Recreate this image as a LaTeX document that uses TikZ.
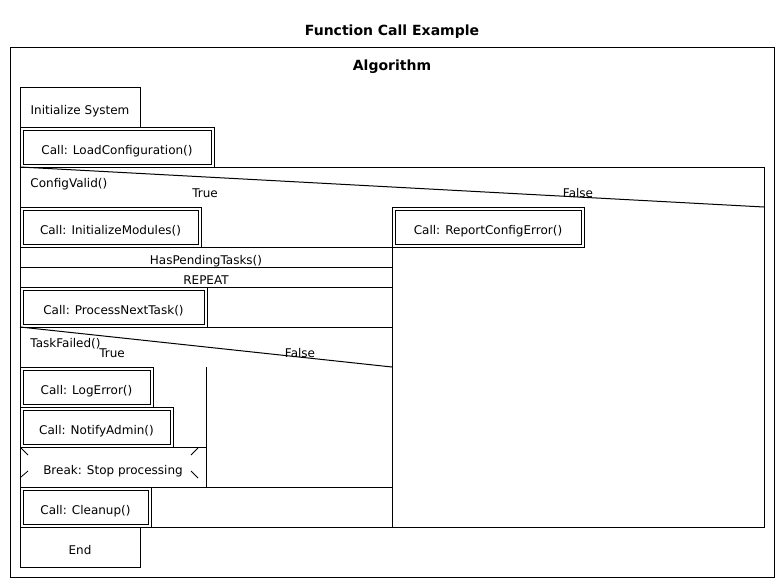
\documentclass[tikz,border=0pt]{standalone}
\usepackage{fontspec}
\setmainfont{DejaVu Sans}
\begin{document}
\begin{tikzpicture}[x=1pt,y=-1pt,line width=1pt,
    every node/.style={font=\fontsize{12}{14}\selectfont},
    heading/.style={anchor=base,font=\bfseries\fontsize{14}{16}\selectfont},
    plainbox/.style={draw,rectangle,inner sep=0pt,outer sep=0pt,anchor=north west,
      text height=14pt,text depth=0pt},
    callbox/.style={plainbox,double,double distance=2pt},
    lbl/.style={anchor=base,inner sep=0pt}]
  \useasboundingbox (0,0) rectangle (784,587);
  \draw
    (392,35) node[heading] (title){Function Call Example}
    (392,70) node[heading] (algo){Algorithm};
  \draw (10,47) rectangle (774,577);
  % sequence
  \node[plainbox,minimum width=120pt,minimum height=40pt] (init) at (20,87) {Initialize System};
  \node[callbox,minimum width=191pt,minimum height=37pt] (loadcfg) at (21.5,128.5) {Call: LoadConfiguration()};
  % if ConfigValid()
  \draw (20,167) rectangle (764,527);
  \draw (20,167) -- (764,207);
  \draw (392,207) -- (392,527);
  \node[lbl,anchor=base west] (cv) at (30,187) {ConfigValid()};
  \node[lbl] (cvtrue) at (205,197) {True};
  \node[lbl] (cvfalse) at (578,197) {False};
  \node[callbox,minimum width=178pt,minimum height=37pt] (initmod) at (21.5,208.5) {Call: InitializeModules()};
  \node[callbox,minimum width=189pt,minimum height=37pt] (reportcfg) at (393.5,208.5) {Call: ReportConfigError()};
  % loop
  \node[plainbox,minimum width=372pt,minimum height=20pt] (pending) at (20,247) {HasPendingTasks()};
  \node[plainbox,minimum width=372pt,minimum height=20pt] (repeat) at (20,267) {REPEAT};
  \node[callbox,minimum width=184pt,minimum height=37pt] (procnext) at (21.5,288.5) {Call: ProcessNextTask()};
  % if TaskFailed()
  \draw (20,327) -- (392,327);
  \draw (20,327) -- (392,367);
  \draw (206,367) -- (206,487);
  \draw (20,487) -- (392,487);
  \node[lbl,anchor=base west] (tf) at (30,347) {TaskFailed()};
  \node[lbl] (tftrue) at (112,357) {True};
  \node[lbl] (tffalse) at (300,357) {False};
  \node[callbox,minimum width=130pt,minimum height=37pt] (logerr) at (21.5,368.5) {Call: LogError()};
  \node[callbox,minimum width=150pt,minimum height=37pt] (notify) at (21.5,408.5) {Call: NotifyAdmin()};
  \node[plainbox,minimum width=186pt,minimum height=40pt] (brk) at (20,447) {Break: Stop processing};
  \begin{scope}[line width=0.8pt]
    \draw ([shift={(1,1)}]brk.north west) -- ++(7,7);
    \draw ([shift={(-8,1)}]brk.north east) -- ++(-7,7);
    \draw ([shift={(1,-10)}]brk.south west) -- ++(7,-6);
    \draw ([shift={(-15,-16)}]brk.south east) -- ++(7,7);
  \end{scope}
  \node[callbox,minimum width=128pt,minimum height=37pt] (cleanup) at (21.5,488.5) {Call: Cleanup()};
  \node[plainbox,minimum width=120pt,minimum height=40pt] (fin) at (20,527) {End};
\end{tikzpicture}
\end{document}
